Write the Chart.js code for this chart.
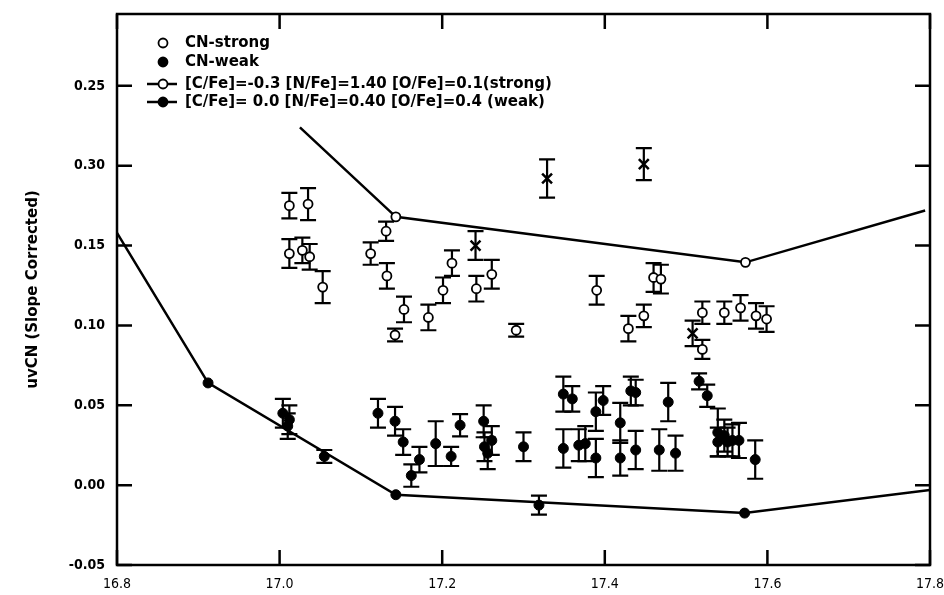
<!DOCTYPE html>
<html lang="en">
<head>
  <meta charset="UTF-8" />
  <title>uvCN (Slope Corrected) vs V</title>
  <script src="https://cdn.jsdelivr.net/npm/chart.js"></script>
  <style>
    html, body { margin: 0; padding: 0; background: #fff; }
    #wrap { width: 944px; height: 595px; }
  </style>
</head>
<body>
  <div id="wrap"><canvas id="chart" width="944" height="595"></canvas></div>

  <script>
    // ===== axis ticks =====
    const xTicks = [16.8, 17.0, 17.2, 17.4, 17.6, 17.8];
    const xTickLabels = ["16.8", "17.0", "17.2", "17.4", "17.6", "17.8"];
    const yTicks = [-0.05, 0.00, 0.05, 0.10, 0.15, 0.20, 0.25];
    const yTickLabels = ["-0.05", "0.00", "0.05", "0.10", "0.15", "0.30", "0.25"];

    // ===== CN-strong stars (open) =====
    const strongX = [17.012, 17.035, 17.012, 17.028, 17.037, 17.053, 17.131, 17.112, 17.132, 17.153,
                     17.142, 17.183, 17.201, 17.212, 17.242, 17.261, 17.291, 17.390, 17.429, 17.448,
                     17.460, 17.469, 17.520, 17.520, 17.547, 17.567, 17.586, 17.599];
    const strongY = [0.175, 0.176, 0.145, 0.147, 0.143, 0.124, 0.159, 0.145, 0.131, 0.110,
                     0.094, 0.105, 0.122, 0.139, 0.123, 0.132, 0.097, 0.122, 0.098, 0.106,
                     0.130, 0.129, 0.108, 0.085, 0.108, 0.111, 0.106, 0.104];
    const strongErr = [0.008, 0.010, 0.009, 0.008, 0.008, 0.010, 0.006, 0.007, 0.008, 0.008,
                       0.004, 0.008, 0.008, 0.008, 0.008, 0.009, 0.004, 0.009, 0.008, 0.007,
                       0.009, 0.009, 0.007, 0.006, 0.007, 0.008, 0.008, 0.008];

    // ===== CN-weak stars (filled) =====
    const weakX = [17.004, 17.012, 17.010, 17.055, 17.121, 17.142, 17.152, 17.172, 17.162, 17.192,
                   17.211, 17.222, 17.251, 17.252, 17.256, 17.261, 17.300, 17.319, 17.349, 17.360,
                   17.349, 17.368, 17.376, 17.389, 17.389, 17.398, 17.419, 17.419, 17.432, 17.438,
                   17.438, 17.467, 17.478, 17.487, 17.516, 17.526, 17.539, 17.547, 17.539, 17.551,
                   17.557, 17.565, 17.585];
    const weakY = [0.045, 0.041, 0.037, 0.018, 0.045, 0.040, 0.027, 0.016, 0.006, 0.026,
                   0.018, 0.0375, 0.040, 0.024, 0.020, 0.028, 0.024, -0.0125, 0.057, 0.054,
                   0.023, 0.025, 0.026, 0.017, 0.046, 0.053, 0.039, 0.017, 0.059, 0.058,
                   0.022, 0.022, 0.052, 0.020, 0.065, 0.056, 0.033, 0.031, 0.027, 0.027,
                   0.028, 0.028, 0.016];
    const weakErr = [0.009, 0.009, 0.008, 0.004, 0.009, 0.009, 0.008, 0.008, 0.007, 0.014,
                     0.006, 0.007, 0.010, 0.009, 0.010, 0.009, 0.009, 0.006, 0.011, 0.008,
                     0.012, 0.010, 0.011, 0.012, 0.012, 0.009, 0.0125, 0.011, 0.009, 0.008,
                     0.012, 0.013, 0.012, 0.011, 0.005, 0.007, 0.015, 0.010, 0.009, 0.009,
                     0.010, 0.011, 0.012];

    // ===== other stars (x marks) =====
    const crossX = [17.329, 17.448, 17.241, 17.508];
    const crossY = [0.192, 0.201, 0.150, 0.095];
    const crossErr = [0.012, 0.010, 0.009, 0.008];

    // ===== model sequences =====
    const modelStrongX = [17.025, 17.143, 17.573, 17.794];
    const modelStrongY = [0.224, 0.168, 0.1395, 0.172];
    const modelStrongMark = [0, 1, 1, 0];
    const modelWeakX = [16.8, 16.912, 17.143, 17.572, 17.8];
    const modelWeakY = [0.158, 0.064, -0.006, -0.0175, -0.003];
    const modelWeakMark = [0, 1, 1, 1, 0];

    const legendLabels = [
      "CN-strong",
      "CN-weak",
      "[C/Fe]=-0.3 [N/Fe]=1.40 [O/Fe]=0.1(strong)",
      "[C/Fe]= 0.0 [N/Fe]=0.40 [O/Fe]=0.4 (weak)"
    ];

    const FONT = "'DejaVu Sans', sans-serif";
    const TICK_FONT = "'DejaVu Sans Condensed', 'DejaVu Sans', sans-serif";
    const pts = (xs, ys) => xs.map((x, i) => ({ x: x, y: ys[i] }));

    // error bars drawn behind the markers
    const errorBars = {
      id: 'errorBars',
      beforeDatasetsDraw(chart) {
        const ctx = chart.ctx, xs = chart.scales.x, ys = chart.scales.y;
        ctx.save();
        ctx.strokeStyle = '#000';
        ctx.lineWidth = 2.2;
        chart.data.datasets.forEach(ds => {
          if (!ds.errorBars) return;
          ds.data.forEach((p, i) => {
            const e = ds.errorBars[i];
            const px = xs.getPixelForValue(p.x);
            const top = ys.getPixelForValue(p.y + e);
            const bot = ys.getPixelForValue(p.y - e);
            ctx.beginPath();
            ctx.moveTo(px, top); ctx.lineTo(px, bot);
            ctx.moveTo(px - 8, top); ctx.lineTo(px + 8, top);
            ctx.moveTo(px - 8, bot); ctx.lineTo(px + 8, bot);
            ctx.stroke();
          });
        });
        ctx.restore();
      }
    };

    // box round the plot with ticks pointing inwards on all four sides
    const frame = {
      id: 'frame',
      afterDatasetsDraw(chart) {
        const ctx = chart.ctx, a = chart.chartArea;
        const xs = chart.scales.x, ys = chart.scales.y;
        const len = 15;
        ctx.save();
        ctx.strokeStyle = '#000';
        ctx.lineWidth = 2.5;
        ctx.strokeRect(a.left, a.top, a.right - a.left, a.bottom - a.top);
        ctx.beginPath();
        xTicks.forEach(v => {
          const px = xs.getPixelForValue(v);
          ctx.moveTo(px, a.bottom); ctx.lineTo(px, a.bottom - len);
          ctx.moveTo(px, a.top); ctx.lineTo(px, a.top + len);
        });
        yTicks.forEach(v => {
          const py = ys.getPixelForValue(v);
          ctx.moveTo(a.left, py); ctx.lineTo(a.left + len, py);
          ctx.moveTo(a.right, py); ctx.lineTo(a.right - len, py);
        });
        ctx.stroke();
        ctx.restore();
      }
    };

    // legend inside the top left of the plot
    const insideLegend = {
      id: 'insideLegend',
      afterDraw(chart) {
        const ctx = chart.ctx, a = chart.chartArea;
        const mx = a.left + 46, tx = a.left + 68;
        const rows = [a.top + 29, a.top + 48, a.top + 70, a.top + 88];
        ctx.save();
        ctx.font = "bold 15px " + FONT;
        ctx.fillStyle = '#000';
        ctx.strokeStyle = '#000';
        ctx.textBaseline = 'middle';
        rows.forEach((y, i) => {
          if (i >= 2) {
            ctx.lineWidth = 2.5;
            ctx.beginPath();
            ctx.moveTo(mx - 16, y); ctx.lineTo(mx + 14, y);
            ctx.stroke();
          }
          ctx.lineWidth = 1.8;
          ctx.beginPath();
          ctx.arc(mx, y, 4.5, 0, Math.PI * 2);
          ctx.fillStyle = (i % 2 === 0) ? '#fff' : '#000';
          ctx.fill();
          ctx.stroke();
          ctx.fillStyle = '#000';
          ctx.fillText(legendLabels[i], tx, y);
        });
        ctx.restore();
      }
    };

    new Chart(document.getElementById('chart'), {
      type: 'scatter',
      data: {
        datasets: [
          {
            label: legendLabels[2],
            data: pts(modelStrongX, modelStrongY),
            showLine: true,
            borderColor: '#000',
            borderWidth: 2.5,
            pointRadius: modelStrongMark.map(m => m ? 4.5 : 0),
            pointBackgroundColor: '#fff',
            pointBorderColor: '#000',
            pointBorderWidth: 1.8
          },
          {
            label: legendLabels[3],
            data: pts(modelWeakX, modelWeakY),
            showLine: true,
            borderColor: '#000',
            borderWidth: 2.5,
            pointRadius: modelWeakMark.map(m => m ? 5 : 0),
            pointBackgroundColor: '#000',
            pointBorderColor: '#000',
            pointBorderWidth: 1
          },
          {
            label: legendLabels[0],
            data: pts(strongX, strongY),
            errorBars: strongErr,
            pointRadius: 4.5,
            pointBackgroundColor: '#fff',
            pointBorderColor: '#000',
            pointBorderWidth: 1.8
          },
          {
            label: legendLabels[1],
            data: pts(weakX, weakY),
            errorBars: weakErr,
            pointRadius: 5,
            pointBackgroundColor: '#000',
            pointBorderColor: '#000',
            pointBorderWidth: 1
          },
          {
            label: 'other',
            data: pts(crossX, crossY),
            errorBars: crossErr,
            pointStyle: 'crossRot',
            pointRadius: 7,
            pointBorderColor: '#000',
            pointBorderWidth: 2.5
          }
        ]
      },
      options: {
        responsive: false,
        animation: false,
        devicePixelRatio: 1,
        layout: { padding: { top: 14, right: 14, left: 0, bottom: 0 } },
        plugins: {
          legend: { display: false },
          tooltip: { enabled: false }
        },
        scales: {
          x: {
            type: 'linear',
            min: 16.8,
            max: 17.8,
            afterBuildTicks: s => { s.ticks = xTicks.map(v => ({ value: v })); },
            afterFit: s => { s.height = 30; s.paddingLeft = 0; s.paddingRight = 0; },
            grid: { display: false },
            border: { display: false },
            ticks: {
              padding: 3,
              color: '#000',
              font: { family: TICK_FONT, size: 14 },
              callback: (v, i) => xTickLabels[i]
            }
          },
          y: {
            min: -0.05,
            max: 0.295,
            afterBuildTicks: s => { s.ticks = yTicks.map(v => ({ value: v })); },
            afterFit: s => { s.width = 117; s.paddingTop = 0; s.paddingBottom = 0; },
            grid: { display: false },
            border: { display: false },
            ticks: {
              padding: 4,
              color: '#000',
              font: { family: TICK_FONT, size: 14, weight: 'bold' },
              callback: (v, i) => yTickLabels[i]
            },
            title: {
              display: true,
              text: 'uvCN (Slope Corrected)',
              color: '#000',
              font: { family: FONT, size: 15, weight: 'bold' },
              padding: { top: 24, bottom: 0 }
            }
          }
        }
      },
      plugins: [errorBars, frame, insideLegend]
    });
  </script>
</body>
</html>
